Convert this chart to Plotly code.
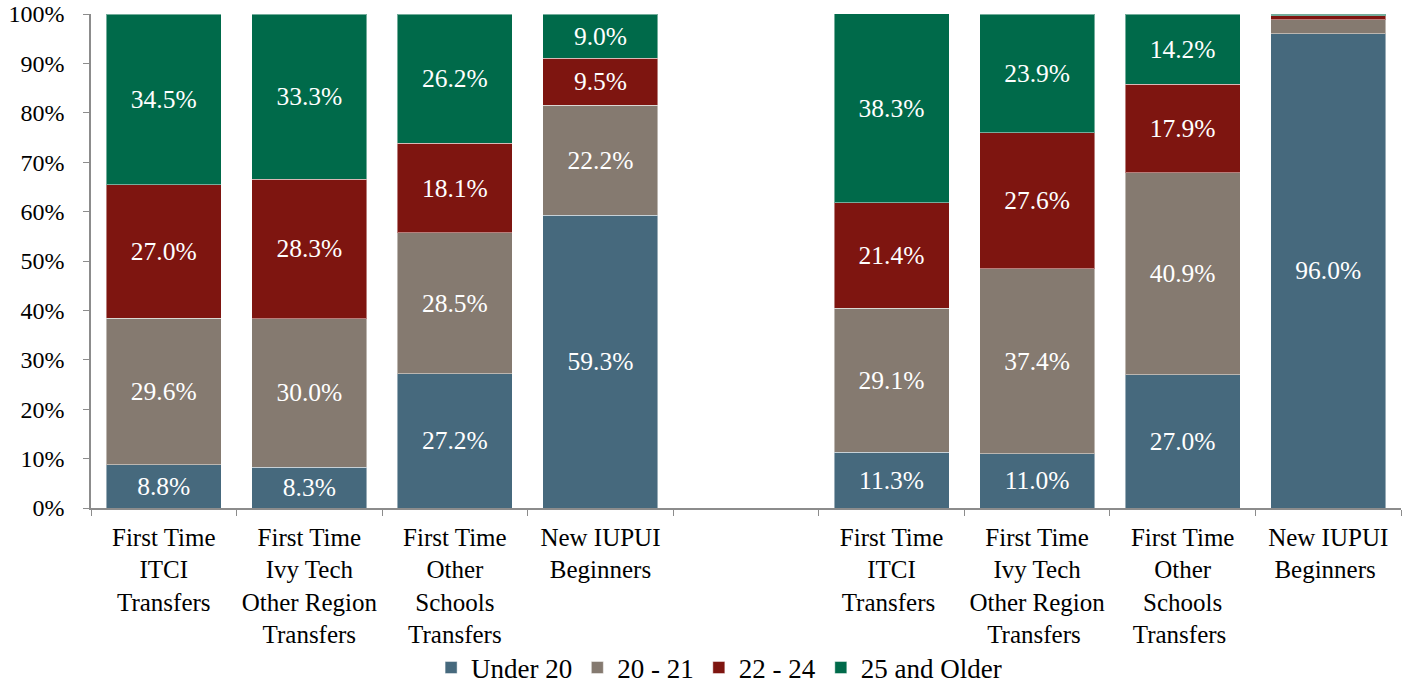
import plotly.graph_objects as go

categories = [
    "First Time<br>ITCI<br>Transfers",
    "First Time<br>Ivy Tech<br>Other Region<br>Transfers",
    "First Time<br>Other<br>Schools<br>Transfers",
    "New IUPUI<br>Beginners",
    " ",
    "First Time<br>ITCI<br>Transfers ",
    "First Time<br>Ivy Tech<br>Other Region<br>Transfers ",
    "First Time<br>Other<br>Schools<br>Transfers ",
    "New IUPUI<br>Beginners ",
]

series_names = ["Under 20", "20 - 21", "22 - 24", "25 and Older"]
under20 = [8.8, 8.3, 27.2, 59.3, None, 11.3, 11.0, 27.0, 96.0]
age20_21 = [29.6, 30.0, 28.5, 22.2, None, 29.1, 37.4, 40.9, 2.8]
age22_24 = [27.0, 28.3, 18.1, 9.5, None, 21.4, 27.6, 17.9, 0.8]
age25plus = [34.5, 33.3, 26.2, 9.0, None, 38.3, 23.9, 14.2, 0.4]
show_label = [True, True, True, True, False, True, True, True, True]
show_label_small = [True, True, True, True, False, True, True, True, False]

y_tickvals = [0, 10, 20, 30, 40, 50, 60, 70, 80, 90, 100]
y_ticktext = [f"{v}%" for v in y_tickvals]

colors = ["#46697D", "#857A70", "#7E1510", "#006A4A"]

FONT = "Times New Roman, Liberation Serif, DejaVu Serif, serif"

fig = go.Figure()
all_series = [under20, age20_21, age22_24, age25plus]
for i, (name, vals, col) in enumerate(zip(series_names, all_series, colors)):
    flags = show_label if i == 0 else show_label_small
    texts = [f"{v:.1f}%" if (v is not None and f) else "" for v, f in zip(vals, flags)]
    fig.add_trace(go.Bar(
        name=name,
        x=categories,
        y=vals,
        text=texts,
        texttemplate="%{text}",
        textposition="inside",
        insidetextanchor="middle",
        textangle=0,
        textfont=dict(color="white", size=25.5, family=FONT),
        marker=dict(color=col, line=dict(color="rgba(255,255,255,0.45)", width=1)),
        hoverinfo="skip",
    ))

fig.update_layout(
    barmode="stack",
    bargap=0.21,
    width=1410,
    height=683,
    margin=dict(l=91, r=9, t=14, b=175),
    paper_bgcolor="white",
    plot_bgcolor="white",
    font=dict(family=FONT, size=24, color="black"),
    showlegend=True,
    legend=dict(
        orientation="h",
        traceorder="normal",
        xref="container", yref="container",
        x=0.51, xanchor="center",
        y=0.022, yanchor="middle",
        bgcolor="rgba(0,0,0,0)",
        font=dict(size=27, family=FONT),
        itemwidth=30,
    ),
    uniformtext=dict(minsize=24, mode="show"),
)

fig.update_yaxes(
    range=[0, 100],
    tickvals=y_tickvals,
    ticktext=y_ticktext,
    showgrid=False,
    zeroline=False,
    showline=True,
    linecolor="#8C8C8C",
    linewidth=1.5,
    ticks="outside",
    ticklen=6,
    tickcolor="#8C8C8C",
    ticklabelstandoff=14,
    tickfont=dict(size=24, family=FONT),
    automargin=False,
)

fig.update_xaxes(
    type="category",
    categoryorder="array",
    categoryarray=categories,
    showline=True,
    linecolor="#8C8C8C",
    linewidth=1.5,
    ticks="outside",
    ticklen=6,
    tickcolor="#8C8C8C",
    tickson="boundaries",
    showgrid=False,
    ticklabelstandoff=6,
    tickfont=dict(size=25, family=FONT),
    tickangle=0,
    automargin=False,
)

fig.write_html(
    "out.html",
    config={"displayModeBar": False},
    post_script="document.body.style.margin='0';",
)
